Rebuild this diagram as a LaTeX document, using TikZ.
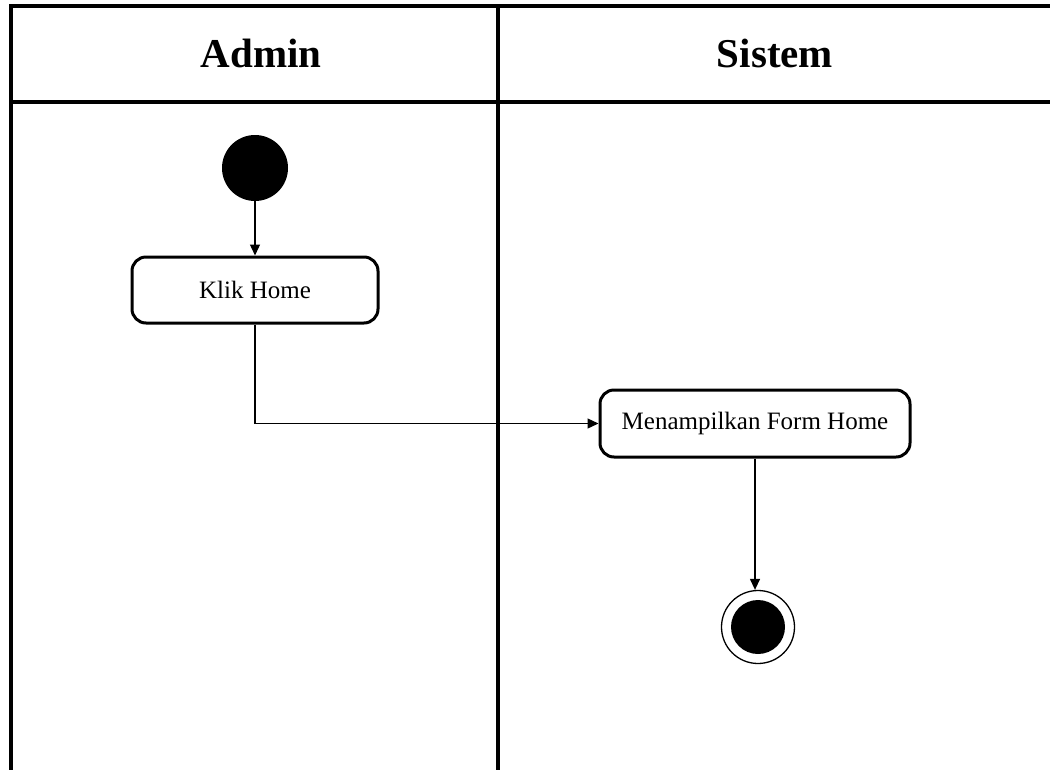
\documentclass[tikz,border=0pt]{standalone}
\usepackage{fontspec}
\setmainfont{Liberation Serif}
\usetikzlibrary{arrows.meta}
\begin{document}
\begin{tikzpicture}[x=1pt,y=-1pt,
  lane/.style={line width=3.5pt,black},
  header/.style={font=\fontsize{41}{45}\selectfont\bfseries,inner sep=0pt},
  action/.style={draw,line width=3pt,rounded corners=14pt,fill=white,
    font=\fontsize{25}{29}\selectfont,inner sep=0pt,align=center},
  flow/.style={line width=1.3pt,-{Triangle[length=11pt,width=10pt]}},
  startnode/.style={circle,fill=black,minimum size=66pt,inner sep=0pt},
  endouter/.style={circle,draw,line width=1.3pt,fill=white,minimum size=73pt,inner sep=0pt},
  endinner/.style={circle,fill=black,minimum size=54pt,inner sep=0pt}]
\useasboundingbox (0,0) rectangle (1050,769);
\begin{scope}
\clip (0,0) rectangle (1050,769);
% swimlane frame
\draw[lane] (11,780) -- (11,6) -- (1060,6);
\draw[lane] (11,102) -- (1060,102);
\draw[lane] (498,6) -- (498,780);
\end{scope}
% headers
\node[header] (hadmin) at (261,53) {Admin};
\node[header] (hsistem) at (775,53) {Sistem};
% nodes
\node[startnode] (start) at (255,168) {};
\node[action,minimum width=246pt,minimum height=66pt] (klik) at (255,290) {Klik Home};
\node[action,minimum width=310pt,minimum height=67pt] (menu) at (755,423.5) {Menampilkan Form Home};
\node[endouter] (end) at (758,627) {};
\node[endinner] (endin) at (end.center) {};
% connectors
\draw[flow] (start.south) -- (klik.north);
\draw[flow] (klik.south) |- (menu.west);
\draw[flow] (menu.south) -- (menu.south |- end.north);
\end{tikzpicture}
\end{document}
